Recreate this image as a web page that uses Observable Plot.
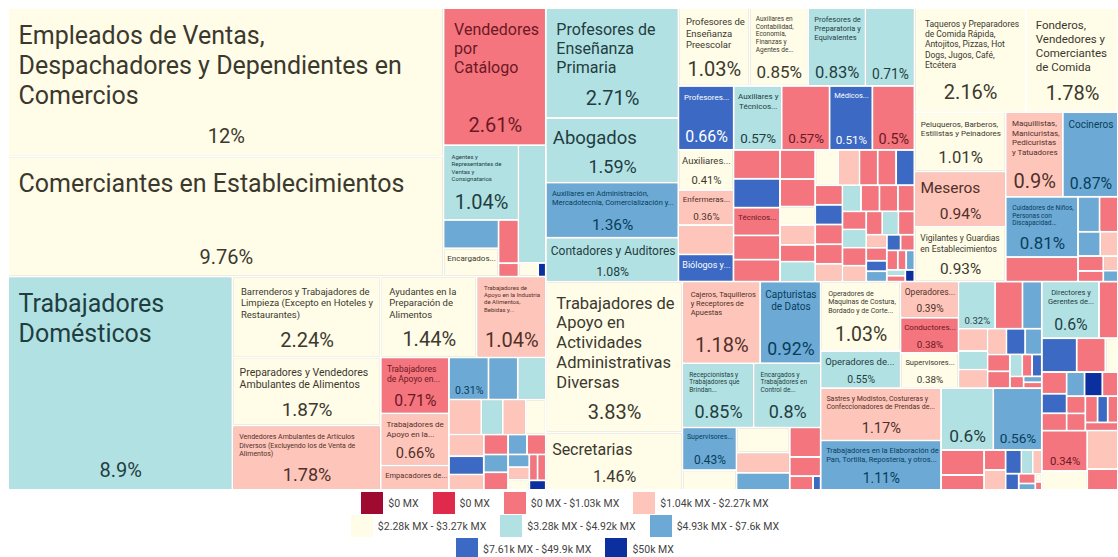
<!DOCTYPE html>
<html><head><meta charset="utf-8">
<script src="https://cdn.jsdelivr.net/npm/d3@7"></script>
<script src="https://cdn.jsdelivr.net/npm/@observablehq/plot@0.6"></script>
<style>
body{margin:0;background:#fff;font-family:Roboto,sans-serif;}
svg.tm{display:block}
svg.tm g[aria-label="rect"] rect{filter:drop-shadow(0.6px 0.8px 0.7px rgba(0,0,0,0.28));}
.lg-swatches{font:10.5px Roboto,sans-serif;color:#444;margin:0 !important;}
.lg-swatches-wrap{justify-content:center;max-width:470px;margin:0 auto !important;padding-left:12px;row-gap:1px;min-height:0 !important;}
.lg-swatch{margin:0 7px !important;height:22px;}
.lg-swatch > svg{margin-right:5px !important;}
</style></head><body><div id="chart"></div><script>
// ---------- DATA: [ocupación, % de ocupados, rango salarial] ----------
const binLabels = ["$0 MX","$0 MX","$0 MX - $1.03k MX","$1.04k MX - $2.27k MX","$2.28k MX - $3.27k MX","$3.28k MX - $4.92k MX","$4.93k MX - $7.6k MX","$7.61k MX - $49.9k MX","$50k MX"];
const binColors = ["#9f0a30","#df2a4c","#f4757d","#fec6ba","#fffce8","#b2e1e4","#6ca9d5","#3b69c3","#0b2f9f"];

const comercio = [
 ["Empleados de Ventas, Despachadores y Dependientes en Comercios", 12, 4],
 ["Comerciantes en Establecimientos", 9.76, 4],
 ["Vendedores por Catálogo", 2.61, 2],
 ["Agentes y Representantes de Ventas y Consignatarios", 1.04, 5],
 [null, 0.29, 6], ["Encargados...", 0.29, 4], [null, 0.16, 2], [null, 0.05, 2],
 [null, 0.6, 5], [null, 0.05, 4], [null, 0.02, 8]
];
const elementales = [
 ["Trabajadores Domésticos", 8.9, 5],
 ["Barrenderos y Trabajadores de Limpieza (Excepto en Hoteles y Restaurantes)", 2.24, 4],
 ["Preparadores y Vendedores Ambulantes de Alimentos", 1.87, 4],
 ["Vendedores Ambulantes de Artículos Diversos (Excluyendo los de Venta de Alimentos)", 1.78, 3],
 ["Ayudantes en la Preparación de Alimentos", 1.44, 4],
 ["Trabajadores de Apoyo en la Industria de Alimentos, Bebidas y...", 1.04, 3],
 ["Trabajadores de Apoyo en...", 0.71, 2],
 ["Trabajadores de Apoyo en la...", 0.66, 3],
 ["Empacadores de...", 0.31, 3],
 [null, 0.31, 6], [null, 0.23, 6], [null, 0.22, 5],
 [null, 0.21, 3], [null, 0.14, 5], [null, 0.15, 3], [null, 0.13, 4],
 [null, 0.14, 3], [null, 0.12, 7], [null, 0.1, 3], [null, 0.09, 2], [null, 0.08, 6], [null, 0.08, 2], [null, 0.07, 6],
 [null, 0.07, 2], [null, 0.05, 6], [null, 0.05, 3], [null, 0.04, 4], [null, 0.04, 2], [null, 0.04, 2], [null, 0.03, 8]
];
const profesionistas = [
 ["Profesores de Enseñanza Primaria", 2.71, 5],
 ["Abogados", 1.59, 5],
 ["Auxiliares en Administración, Mercadotecnia, Comercialización y...", 1.36, 6],
 ["Contadores y Auditores", 1.08, 5],
 ["Profesores de Enseñanza Preescolar", 1.03, 4],
 ["Auxiliares en Contabilidad, Economía, Finanzas y Agentes de...", 0.85, 4],
 ["Profesores de Preparatoria y Equivalentes", 0.83, 5],
 [null, 0.71, 5],
 ["Profesores...", 0.66, 7],
 ["Auxiliares y Técnicos...", 0.57, 5],
 [null, 0.57, 2],
 ["Médicos...", 0.51, 7],
 [null, 0.5, 2],
 ["Auxiliares...", 0.41, 4],
 ["Enfermeras...", 0.36, 3],
 [null, 0.3, 3],
 ["Biólogos y...", 0.28, 7],
 [null, 0.25, 2], [null, 0.25, 7], ["Técnicos...", 0.24, 2], [null, 0.21, 2], [null, 0.19, 2],
 [null, 0.19, 2], [null, 0.18, 2], [null, 0.12, 4], [null, 0.13, 3], [null, 0.11, 2], [null, 0.13, 5],
 [null, .15, 4], [null, .14, 3], [null, .12, 2], [null, .12, 2], [null, .12, 7], [null, .1, 2], [null, .1, 7],
 [null, .1, 2], [null, .1, 2], [null, .09, 3], [null, .09, 5], [null, .09, 2], [null, .09, 2], [null, .08, 2],
 [null, .08, 2], [null, .08, 5], [null, .08, 2], [null, .07, 3], [null, .07, 2], [null, .07, 5], [null, .07, 2],
 [null, .05, 3], [null, .05, 2], [null, .04, 7], [null, .04, 6], [null, .04, 7], [null, .04, 2], [null, .04, 2],
 [null, .03, 2], [null, .03, 6], [null, .02, 5], [null, .02, 2], [null, .02, 8]
];
const servicios = [
 ["Taqueros y Preparadores de Comida Rápida, Antojitos, Pizzas, Hot Dogs, Jugos, Café, Etcétera", 2.16, 4],
 ["Fonderos, Vendedores y Comerciantes de Comida", 1.78, 4],
 ["Peluqueros, Barberos, Estilistas y Peinadores", 1.01, 4],
 ["Meseros", 0.94, 3],
 ["Vigilantes y Guardias en Establecimientos", 0.93, 4],
 ["Maquillistas, Manicuristas, Pedicuristas y Tatuadores", 0.9, 3],
 ["Cocineros", 0.87, 6],
 ["Cuidadores de Niños, Personas con Discapacidad...", 0.81, 6],
 [null, 0.33, 2],
 [null, .14, 6], [null, .12, 2], [null, .1, 6], [null, .08, 3], [null, .07, 2], [null, .05, 2], [null, .04, 3], [null, .03, 6]
];
const administrativos = [
 ["Trabajadores de Apoyo en Actividades Administrativas Diversas", 3.83, 4],
 ["Secretarias", 1.46, 4],
 ["Cajeros, Taquilleros y Receptores de Apuestas", 1.18, 3],
 ["Capturistas de Datos", 0.92, 6],
 ["Recepcionistas y Trabajadores que Brindan...", 0.85, 5],
 ["Encargados y Trabajadores en Control de...", 0.8, 5],
 ["Supervisores...", 0.43, 6],
 [null, 0.2, 4], [null, 0.25, 4], [null, 0.2, 3], [null, 0.17, 6],
 [null, 0.17, 2], [null, 0.11, 2], [null, 0.06, 2], [null, 0.02, 7]
];
const industriales = [
 ["Operadores de Maquinas de Costura, Bordado y de Corte...", 1.03, 4],
 ["Operadores de...", 0.55, 5],
 ["Operadores...", 0.39, 3],
 ["Conductores...", 0.38, 2],
 ["Supervisores...", 0.38, 4],
 [null, 0.32, 5], [null, 0.24, 2], [null, 0.17, 6],
 [null, .12, 3], [null, .1, 5], [null, .1, 3], [null, .09, 3], [null, .09, 7], [null, .08, 6], [null, .07, 2],
 [null, .07, 2], [null, .05, 5], [null, .04, 2], [null, .04, 7], [null, .03, 2], [null, .02, 6], [null, .02, 2],
 ["Sastres y Modistos, Costureras y Confeccionadores de Prendas de...", 1.17, 3],
 ["Trabajadores en la Elaboración de Pan, Tortilla, Repostería, y otros...", 1.11, 6],
 [null, 0.6, 5], [null, 0.56, 6],
 [null, .2, 2], [null, .12, 2], [null, .08, 2], [null, .08, 3], [null, .07, 7], [null, .05, 5],
 [null, .04, 3], [null, .04, 7], [null, .03, 2], [null, .02, 6], [null, .01, 4], [null, .01, 2]
];
const funcionarios = [
 ["Directores y Gerentes de...", 0.6, 5],
 [null, 0.2, 2], [null, 0.22, 7], [null, 0.18, 2], [null, 0.08, 4],
 [null, .1, 2], [null, .09, 7], [null, .08, 2], [null, .08, 6], [null, .08, 8], [null, .07, 2],
 [null, .06, 2], [null, .06, 2], [null, .06, 2], [null, .05, 7], [null, .05, 2], [null, .05, 2],
 [null, 0.34, 2], [null, 0.16, 4], [null, 0.22, 3], [null, 0.12, 2]
];

// ---------- tiling plan (H = side by side, V = stacked, S = squarify) ----------
const R = (a, b) => d3.range(a, b + 1);
const planComercio = ["H", ["V", 0, 1], ["V", 2, ["H", ["V", 3, ["H", ["V", 4, 5], ["V", 6, 7]]], ["V", 8, ["H", 9, 10]]]]];
const planElem = ["H", 0, ["V", 1, 2, 3], ["V", ["H", 4, 5], ["H", ["V", 6, 7, 8], ["V", ["H", 9, 10, 11], ["H", 12, 13, 14, 15], ["S", ...R(16, 29)]]]]];
const planProf = ["H", ["V", 0, 1, 2, 3], ["V", ["H", 4, 5, 6, 7], ["H", 8, 9, 10, 11, 12], ["H", ["V", 13, 14, 15, 16], ["V", 17, 18, 19, 20, 21], ["V", 22, 23, 24, 25, 26, 27], ["S", ...R(28, 60)]]]];
const planServ = ["V", ["H", 0, 1], ["H", ["V", 2, 3, 4], ["V", ["H", 5, 6], ["H", ["V", 7, 8], ["S", ...R(9, 16)]]]]];
const planAdmin = ["H", ["V", 0, 1], ["V", ["H", 2, 3], ["H", 4, 5], ["H", ["V", 6, 7], ["V", 8, 9, 10], ["V", 11, 12, ["H", 13, 14]]]]];
const planInd = ["V", ["H", ["V", 0, 1], ["V", 2, 3, 4], ["V", ["H", 5, 6, 7], ["S", ...R(8, 21)]]], ["H", ["V", 22, 23], ["V", ["H", 24, 25], ["S", ...R(26, 37)]]]];
const planFunc = ["V", ["H", 0, 1], ["H", 2, 3, 4], ["S", ...R(5, 16)], ["H", ["V", 17, 18], ["V", 19, 20]]];

function build(plan, rows) {
  if (typeof plan === "number") { const [name, share, bin] = rows[plan]; return {name, share, bin}; }
  const [dir, ...kids] = plan;
  const children = kids.map(k => build(k, rows));
  if (dir === "S") children.sort((a, b) => b.share - a.share);
  return {dir, children};
}
const rootData = {dir: "H", children: [
  {dir: "V", children: [build(planComercio, comercio), build(planElem, elementales)]},
  {dir: "V", children: [
    {dir: "H", children: [build(planProf, profesionistas), build(planServ, servicios)]},
    {dir: "H", children: [build(planAdmin, administrativos), build(planInd, industriales), build(planFunc, funcionarios)]}
  ]}
]};
const W = 1110, H = 482;
const root = d3.hierarchy(rootData).sum(d => d.children ? 0 : d.share);
d3.treemap().size([W, H]).tile((node, x0, y0, x1, y1) => {
  const t = node.data.dir === "H" ? d3.treemapDice : node.data.dir === "V" ? d3.treemapSlice : d3.treemapSquarify;
  t(node, x0, y0, x1, y1);
})(root);
const leaves = root.leaves().map(n => ({x0: n.x0, y0: n.y0, x1: n.x1, y1: n.y1, name: n.data.name, share: n.data.share, bin: n.data.bin}));

// ---------- label fitting ----------
const ctx = document.createElement("canvas").getContext("2d");
const FONT = "Roboto";
const tw = (t, s) => { ctx.font = `${s}px ${FONT}`; return ctx.measureText(t).width; };
function wrap(text, s, aw) {
  const words = text.split(/\s+/); const lines = []; let line = ""; let ok = true;
  for (const w of words) {
    const t = line ? line + " " + w : w;
    if (tw(t, s) <= aw) line = t;
    else { if (line) lines.push(line); line = w; if (tw(w, s) > aw) ok = false; }
  }
  if (line) lines.push(line);
  return {lines, ok};
}
function fitName(text, aw, ah) {
  for (let s = 25; s >= 5.5; s -= 0.5) {
    const r = wrap(text, s, aw);
    if (r.ok && (r.lines.length * 1.2 + 0.25) * s <= ah) return {s, lines: r.lines};
  }
  const s = 5.5, max = Math.floor(ah / (s * 1.2));
  if (max < 1) return null;
  let lines = wrap(text, s, aw).lines;
  if (lines.length > max) {
    lines = lines.slice(0, max);
    let last = lines[max - 1];
    while (last.includes(" ") && tw(last + "...", s) > aw) last = last.slice(0, last.lastIndexOf(" "));
    lines[max - 1] = last + "...";
  }
  return {s, lines};
}
const names = [], shares = [];
for (const d of leaves) {
  const w = d.x1 - d.x0, h = d.y1 - d.y0;
  const pad = Math.max(4, Math.min(10, Math.min(w, h) * 0.1));
  const aw = w - 1.5 * pad;
  const st = `${d.share}%`;
  let fs = Math.min(20, h * 0.28, (w - 8) * 0.9 / tw(st, 1));
  const showShare = w >= 36 && h >= 33 && fs >= 5.5;
  if (showShare) shares.push({x: (d.x0 + d.x1) / 2, y: d.y1 - pad - fs * 0.5, text: st, fs, bin: d.bin});
  if (d.name) {
    const ah = h - 2 * pad - (showShare ? fs * 1.25 + 2 : 0);
    const f = fitName(d.name, aw, ah);
    if (f) {
      const center = w < 62 && f.lines.length <= 2;
      names.push({x: center ? (d.x0 + d.x1) / 2 : d.x0 + pad, y: d.y0 + pad + 0.15 * f.s, text: f.lines.join("\n"), fs: f.s, bin: d.bin, center});
    }
  }
}
const textColor = binColors.map((c, i) => {
  if (i <= 1 || i >= 7) return "#ffffff";
  const h = d3.hcl(c); h.l = 24; h.c = h.c * 0.75; return h.formatHex();
});

const marks = [Plot.rect(leaves, {x1: "x0", x2: "x1", y1: "y0", y2: "y1", fill: "bin", inset: 1})];
for (let b = 0; b < 9; b++) {
  for (const center of [false, true]) {
    const sub = names.filter(n => n.bin === b && n.center === center);
    if (sub.length) marks.push(Plot.text(sub, {x: "x", y: "y", text: "text", fontSize: "fs", fill: textColor[b], textAnchor: center ? "middle" : "start", lineAnchor: "top", lineHeight: 1.2}));
  }
  const ss = shares.filter(s => s.bin === b);
  if (ss.length) marks.push(Plot.text(ss, {x: "x", y: "y", text: "text", fontSize: "fs", fill: textColor[b], textAnchor: "middle", lineAnchor: "middle"}));
}

const chart = Plot.plot({
  width: 1118, height: 492, marginTop: 8, marginLeft: 8, marginRight: 0, marginBottom: 2,
  className: "tm",
  style: {fontFamily: "Roboto", background: "#fff"},
  x: {domain: [0, W], axis: null},
  y: {domain: [0, H], reverse: true, axis: null},
  color: {type: "ordinal", domain: d3.range(9), range: binColors},
  marks
});
document.getElementById("chart").append(chart);
const legend = Plot.legend({color: {type: "ordinal", domain: d3.range(9), range: binColors}, legend: "swatches", swatchSize: 22, tickFormat: i => binLabels[i], className: "lg"});
document.getElementById("chart").append(legend);
</script></body></html>
